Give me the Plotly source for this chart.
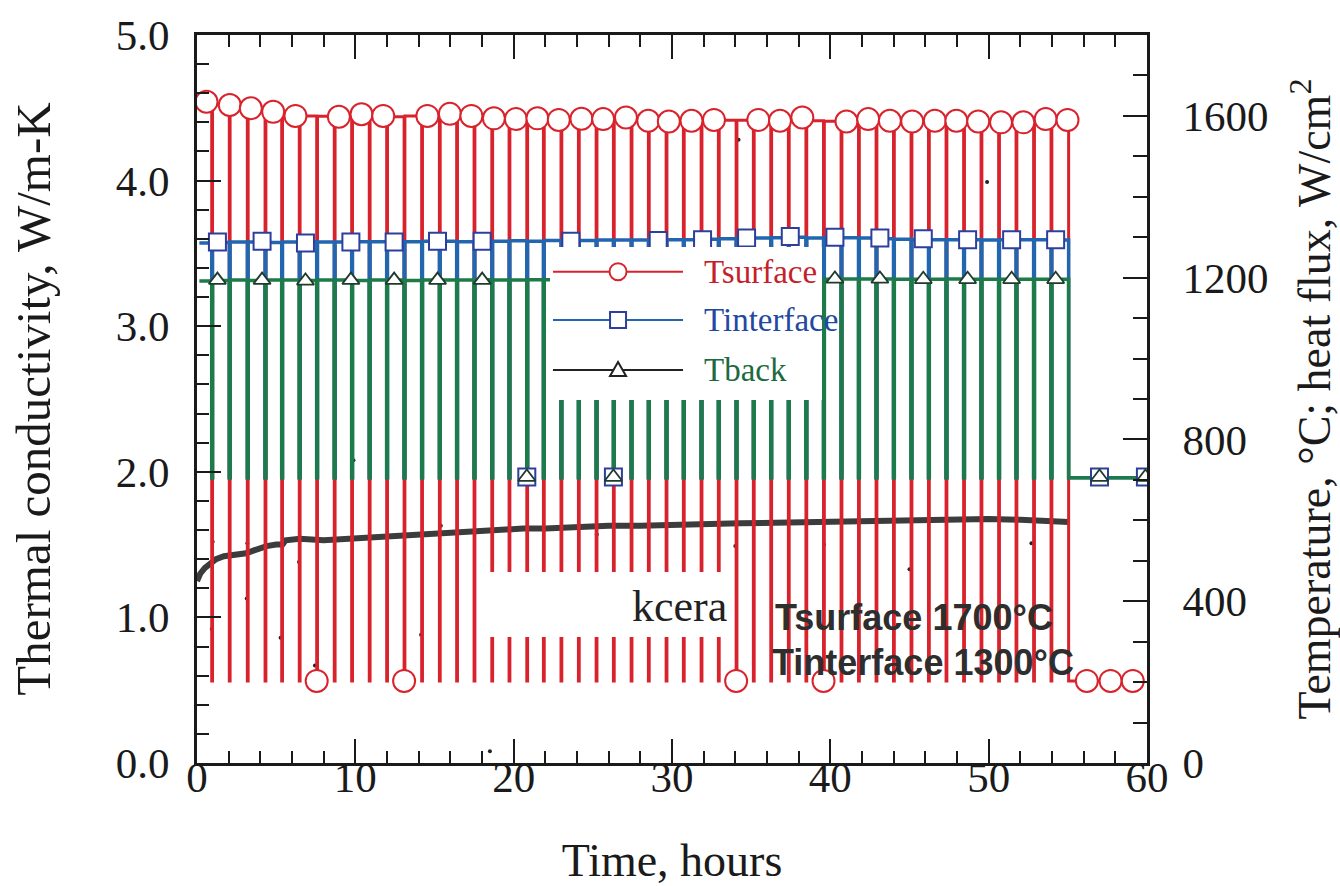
import plotly.graph_objects as go

# ---------------- data ----------------
# times (hours) of the cool-down drops of each thermal cycle; the last one is the final cool-down
cycle_times = [0.93, 2.04, 3.18, 4.30, 5.35, 6.46, 7.56, 8.67, 9.77, 10.88,
               11.98, 13.08, 14.19, 15.31, 16.40, 17.50, 18.62, 19.71, 20.83, 21.88,
               22.99, 24.09, 25.21, 26.30, 27.42, 28.51, 29.63, 30.72, 31.84, 32.93,
               34.05, 35.14, 36.24, 37.35, 38.46, 39.57, 40.68, 41.78, 42.89, 43.99,
               45.10, 46.20, 47.31, 48.42, 49.52, 50.63, 51.73, 52.84, 53.94, 55.05]
start_time = 0.15
end_time_surface = 59.1
end_time_back = 59.9

# plateau (heated) level before each drop, deg C
tsurface_high = [1635, 1627, 1620, 1612, 1604, 1600, 1600, 1599, 1602, 1600,
                 1601, 1598, 1600, 1598, 1596, 1594, 1593, 1594, 1592, 1591,
                 1591, 1592, 1592, 1594, 1593, 1588, 1587, 1588, 1590, 1590,
                 1589, 1589, 1590, 1592, 1595, 1588, 1587, 1588, 1590, 1588,
                 1587, 1587, 1588, 1588, 1588, 1586, 1584, 1584, 1590, 1590]
tinterface_high = [1286, 1287, 1288, 1288, 1287, 1288, 1289, 1288, 1288, 1289,
                   1289, 1288, 1289, 1290, 1290, 1289, 1290, 1290, 1291, 1290,
                   1292, 1292, 1292, 1293, 1293, 1293, 1292, 1294, 1294, 1295,
                   1296, 1298, 1298, 1299, 1300, 1298, 1298, 1299, 1298, 1296,
                   1295, 1294, 1294, 1294, 1294, 1293, 1294, 1294, 1294, 1293]
tback_high = [1192, 1193, 1194, 1193, 1194, 1194, 1193, 1194, 1194, 1193,
              1194, 1194, 1193, 1194, 1194, 1194, 1195, 1194, 1194, 1195,
              1195, 1195, 1195, 1195, 1195, 1195, 1195, 1195, 1196, 1196,
              1196, 1196, 1196, 1196, 1196, 1196, 1196, 1197, 1197, 1197,
              1196, 1196, 1196, 1197, 1196, 1196, 1196, 1196, 1196, 1196]
tsurface_low = 203
tinterface_low = 705
tback_low = 705

# symbol markers placed along each series
circle_t = [0.60, 2.07, 3.40, 4.81, 6.22, 7.56, 8.96, 10.39, 11.76, 13.08,
            14.55, 15.97, 17.33, 18.75, 20.14, 21.50, 22.85, 24.28, 25.65, 27.09,
            28.50, 29.80, 31.23, 32.65, 34.05, 35.45, 36.82, 38.23, 39.57, 41.02,
            42.39, 43.76, 45.17, 46.60, 47.96, 49.34, 50.78, 52.19, 53.60, 54.98,
            56.20, 57.70, 59.10]
circle_v = [1635, 1627, 1619, 1610, 1600, 203, 1598, 1604, 1600, 203,
            1600, 1605, 1600, 1594, 1592, 1594, 1590, 1593, 1592, 1596,
            1588, 1586, 1588, 1590, 203, 1590, 1588, 1596, 203, 1586,
            1592, 1588, 1586, 1588, 1588, 1586, 1584, 1584, 1592, 1590,
            203, 203, 203]
square_t = [1.29, 4.11, 6.85, 9.72, 12.45, 15.19, 18.01, 20.83, 23.61, 26.30,
            29.13, 31.93, 34.71, 37.47, 40.29, 43.13, 45.87, 48.67, 51.45, 54.23,
            57.00, 59.90]
square_v = [1288, 1290, 1286, 1288, 1288, 1290, 1290, 707, 1290, 707,
            1292, 1294, 1298, 1302, 1300, 1298, 1296, 1294, 1294, 1294,
            707, 707]
triangle_t = square_t
triangle_v = [1194, 1194, 1192, 1194, 1194, 1194, 1194, 707, 1195, 707,
              1195, 1195, 1196, 1196, 1197, 1197, 1196, 1196, 1196, 1196,
              707, 707]

# ceramic thermal conductivity (W/m-K)
kcera_t = [0.0, 0.2, 0.5, 0.8, 1.2, 1.7, 2.3, 3.1, 3.6, 4.4, 5.0, 5.4, 5.6, 6.5, 8.0,
           9.5, 11.1, 12.5, 14.3, 15.8, 17.4, 19.0, 20.6, 22.0, 23.8, 26.0, 28.0,
           30.5, 33.0, 34.3, 36.5, 39.0, 41.0, 42.7, 45.0, 47.5, 50.0, 52.0, 53.5, 55.05]
kcera_v = [1.25, 1.30, 1.34, 1.37, 1.40, 1.42, 1.43, 1.44, 1.46, 1.49, 1.50, 1.50, 1.53, 1.54, 1.53,
           1.54, 1.55, 1.56, 1.57, 1.58, 1.59, 1.60, 1.61, 1.61, 1.62, 1.63, 1.63,
           1.64, 1.645, 1.646, 1.65, 1.655, 1.66, 1.67, 1.67, 1.675, 1.675, 1.67, 1.66, 1.655]
kdots_t = [0.93, 0.99, 3.14, 3.18, 5.28, 6.44, 7.45, 9.88, 14.15, 15.40,
           18.50, 22.47, 25.25, 34.00, 34.20, 39.60, 40.70, 45.00, 49.90, 52.70]
kdots_v = [0.92, 1.52, 1.13, 1.51, 0.86, 1.38, 0.67, 2.08, 0.88, 1.63,
           0.08, 1.11, 1.57, 1.49, 4.28, 1.50, 2.37, 1.33, 3.99, 1.51]

# ---------------- build cycling traces ----------------
def cycling(highs, low, end_t):
    xs, ys = [start_time], [highs[0]]
    for k, tc in enumerate(cycle_times[:-1]):
        xs += [tc, tc, tc + 0.05, tc + 0.05]
        ys += [highs[k], low, low, highs[k + 1]]
    tl = cycle_times[-1]
    xs += [tl, tl, end_t]
    ys += [highs[-1], low, low]
    return xs, ys

RED = "#d9232c"
BLUE = "#2266b0"
GREEN = "#1d7a49"
SERIF = "Liberation Serif"
INK = "#1a1a1a"

fig = go.Figure()
xs, ys = cycling(tsurface_high, tsurface_low, end_time_surface)
fig.add_trace(go.Scatter(x=xs, y=ys, yaxis="y2", mode="lines",
                         line=dict(color=RED, width=3), showlegend=False))
xs, ys = cycling(tinterface_high, tinterface_low, end_time_back)
fig.add_trace(go.Scatter(x=xs, y=ys, yaxis="y2", mode="lines",
                         line=dict(color=BLUE, width=3.5), showlegend=False))
xs, ys = cycling(tback_high, tback_low, end_time_back)
fig.add_trace(go.Scatter(x=xs, y=ys, yaxis="y2", mode="lines",
                         line=dict(color=GREEN, width=3.5), showlegend=False))

fig.add_trace(go.Scatter(x=kcera_t, y=kcera_v, mode="lines",
                         line=dict(color="#3a3d3b", width=6), showlegend=False))
fig.add_trace(go.Scatter(x=kdots_t, y=kdots_v, mode="markers",
                         marker=dict(color="#222", size=4), showlegend=False))

fig.add_trace(go.Scatter(x=circle_t, y=circle_v, yaxis="y2", mode="markers",
                         marker=dict(symbol="circle", size=22, color="white",
                                     line=dict(color=RED, width=2)), showlegend=False))
fig.add_trace(go.Scatter(x=square_t, y=square_v, yaxis="y2", mode="markers",
                         marker=dict(symbol="square", size=17, color="white",
                                     line=dict(color="#2d3f9c", width=2)), showlegend=False))
fig.add_trace(go.Scatter(x=triangle_t, y=triangle_v, yaxis="y2", mode="markers",
                         marker=dict(symbol="triangle-up", size=15, color="white",
                                     line=dict(color="#1f3b2b", width=1.8)), showlegend=False))

# ---------------- decorations: legend box and label box ----------------
shapes = [
    dict(type="rect", xref="paper", yref="paper", x0=0.3716, x1=0.6579, y0=0.4986, y1=0.7088,
         fillcolor="white", line=dict(width=0), layer="above"),
    dict(type="rect", xref="paper", yref="paper", x0=0.2979, x1=0.5611, y0=0.1731, y1=0.2624,
         fillcolor="white", line=dict(width=0), layer="above"),
]
leg_rows = [0.6749, 0.6085, 0.5398]
leg_cols = [RED, BLUE, "#222"]
for yy, cc in zip(leg_rows, leg_cols):
    shapes.append(dict(type="line", xref="paper", yref="paper", x0=0.3747, x1=0.5116,
                       y0=yy, y1=yy, line=dict(color=cc, width=2), layer="above"))
mx = 0.4432
shapes.append(dict(type="circle", xref="paper", yref="paper", xsizemode="pixel", ysizemode="pixel",
                   xanchor=mx, yanchor=leg_rows[0], x0=-8.5, x1=8.5, y0=-8.5, y1=8.5,
                   fillcolor="white", line=dict(color=RED, width=2), layer="above"))
shapes.append(dict(type="rect", xref="paper", yref="paper", xsizemode="pixel", ysizemode="pixel",
                   xanchor=mx, yanchor=leg_rows[1], x0=-8, x1=8, y0=-8, y1=8,
                   fillcolor="white", line=dict(color="#2d3f9c", width=2), layer="above"))
shapes.append(dict(type="path", xref="paper", yref="paper", xsizemode="pixel", ysizemode="pixel",
                   xanchor=mx, yanchor=leg_rows[2], path="M -8,-6 L 8,-6 L 0,8 Z",
                   fillcolor="white", line=dict(color="#222", width=2), layer="above"))

annotations = []
for yy, txt, cc in zip(leg_rows, ["Tsurface", "Tinterface", "Tback"],
                       ["#c41f2a", "#2348a0", "#1d6a40"]):
    annotations.append(dict(xref="paper", yref="paper", x=0.5316, y=yy, xanchor="left",
                            yanchor="middle", text=txt, showarrow=False,
                            font=dict(family=SERIF, size=33, color=cc)))
annotations.append(dict(xref="paper", yref="paper", x=0.5084, y=0.2143, text="kcera",
                        showarrow=False, xanchor="center", yanchor="middle",
                        font=dict(family=SERIF, size=44, color="#222")))
annotations.append(dict(xref="paper", yref="paper", x=0.6063, y=0.2005, xanchor="left",
                        yanchor="middle", text="<b>Tsurface 1700°C</b>", showarrow=False,
                        font=dict(family="Liberation Sans", size=36, color="#2e2e2e")))
annotations.append(dict(xref="paper", yref="paper", x=0.6032, y=0.1387, xanchor="left",
                        yanchor="middle", text="<b>Tinterface 1300°C</b>", showarrow=False,
                        font=dict(family="Liberation Sans", size=36, color="#2e2e2e")))

axis_common = dict(showgrid=False, zeroline=False, showline=True, linecolor=INK,
                   linewidth=3, ticks="inside", tickcolor=INK, tickwidth=2,
                   ticklen=24, tickfont=dict(family=SERIF, size=43, color=INK))

fig.update_layout(
    width=1340, height=886,
    margin=dict(l=197, r=193, t=35, b=123, autoexpand=False),
    paper_bgcolor="white", plot_bgcolor="white",
    showlegend=False,
    shapes=shapes, annotations=annotations,
    xaxis=dict(range=[0, 60], dtick=10, mirror="ticks", ticklabelstandoff=-26,
               minor=dict(dtick=2, ticks="inside", ticklen=12, tickcolor=INK, tickwidth=2),
               title=dict(text="Time, hours", font=dict(family=SERIF, size=46, color=INK),
                          standoff=45),
               **axis_common),
    yaxis=dict(range=[0, 5], dtick=1, tickformat=".1f", ticklabelstandoff=16,
               minor=dict(dtick=0.2, ticks="inside", ticklen=12, tickcolor=INK, tickwidth=2),
               title=dict(text="Thermal conductivity, W/m-K",
                          font=dict(family=SERIF, size=49, color=INK), standoff=50),
               **axis_common),
    yaxis2=dict(range=[0, 1800], dtick=400, overlaying="y", side="right", ticklabelstandoff=24,
                minor=dict(dtick=100, ticks="inside", ticklen=14, tickcolor=INK, tickwidth=2),
                title=dict(text="Temperature, °C; heat flux, W/cm<sup>2</sup>",
                           font=dict(family=SERIF, size=46, color=INK), standoff=34),
                **axis_common),
)

fig.write_html("out.html", config={"displayModeBar": False},
               post_script="document.body.style.margin='0px';document.body.style.overflow='hidden';")
